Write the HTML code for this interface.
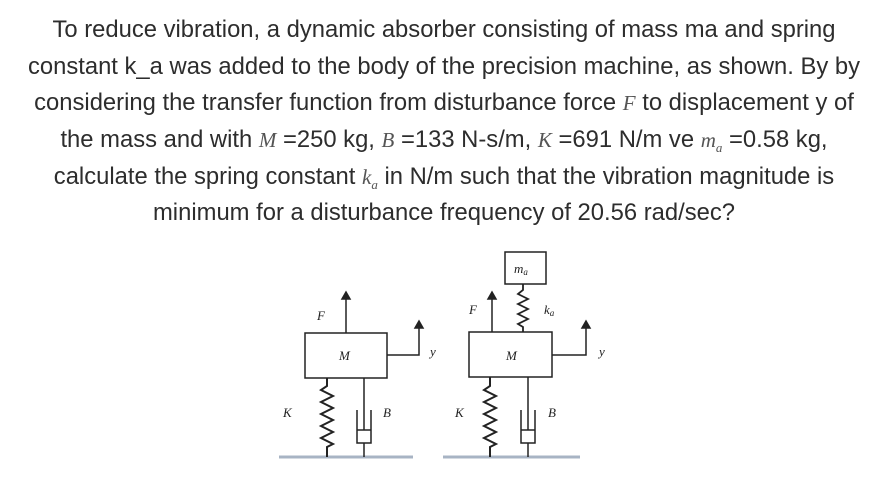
<!DOCTYPE html>
<html><head><meta charset="utf-8"><style>
body{margin:0;width:888px;height:490px;background:#fff;position:relative;overflow:hidden;font-family:"Liberation Sans",sans-serif;color:#2d2d2d}
.l{position:absolute;left:0;width:888px;text-align:center;font-size:23.8px;line-height:26px;white-space:nowrap;letter-spacing:0px}
i{font-family:"Liberation Serif",serif;color:#555;font-size:21px}
svg{position:absolute;left:0;top:0}
</style></head><body>
<div class="l" style="top:17px">To reduce vibration, a dynamic absorber consisting of mass ma and spring</div>
<div class="l" style="top:54px">constant k_a was added to the body of the precision machine, as shown. By by</div>
<div class="l" style="top:90px">considering the transfer function from disturbance force <i>F</i> to displacement y of</div>
<div class="l" style="top:127px">the mass and with <i>M</i> =250 kg, <i>B</i> =133 N-s/m, <i>K</i> =691 N/m ve <i>m<sub style="font-size:13px">a</sub></i> =0.58 kg,</div>
<div class="l" style="top:164px">calculate the spring constant <i>k<sub style="font-size:13px">a</sub></i> in N/m such that the vibration magnitude is</div>
<div class="l" style="top:200px">minimum for a disturbance frequency of 20.56 rad/sec?</div>
<svg width="888" height="490" font-family="Liberation Serif,serif" font-style="italic" font-size="13" fill="none" stroke="#222" stroke-width="1.5">
<g>
<line x1="279" y1="457" x2="413" y2="457" stroke="#a8b4c4" stroke-width="3"/>
<rect x="305" y="333" width="82" height="45"/>
<line x1="346" y1="333" x2="346" y2="298"/><path d="M342 299 L346 292 L350 299Z" fill="#222"/>
<polyline points="387,355 419,355 419,327"/><path d="M415 328 L419 321 L423 328Z" fill="#222"/>
<polyline points="327,378 327,386 321,390 333,396 321,402 333,408 321,414 333,420 321,426 333,432 321,438 333,444 327,447 327,457" stroke-width="2"/>
<line x1="364" y1="378" x2="364" y2="430"/>
<polyline points="357,410 357,443 371,443 371,410"/>
<line x1="357" y1="430" x2="371" y2="430"/>
<line x1="364" y1="443" x2="364" y2="457"/>
<g fill="#222" stroke="none"><text x="317" y="320">F</text><text x="339" y="360">M</text><text x="283" y="417">K</text><text x="383" y="417">B</text><text x="430" y="356">y</text></g>
</g>
<g>
<line x1="443" y1="457" x2="580" y2="457" stroke="#a8b4c4" stroke-width="3"/>
<rect x="469" y="332" width="83" height="45"/>
<rect x="505" y="252" width="41" height="32"/>
<line x1="492" y1="332" x2="492" y2="298"/><path d="M488 299 L492 292 L496 299Z" fill="#222"/>
<polyline points="552,355 586,355 586,327"/><path d="M582 328 L586 321 L590 328Z" fill="#222"/>
<polyline points="523,284 523,290 518,294 528,299 518,304 528,309 518,314 528,319 518,324 523,327 523,332" stroke-width="1.8"/>
<polyline points="490,377 490,386 484,390 496,396 484,402 496,408 484,414 496,420 484,426 496,432 484,438 496,444 490,447 490,457" stroke-width="2"/>
<line x1="528" y1="377" x2="528" y2="430"/>
<polyline points="521,410 521,443 535,443 535,410"/>
<line x1="521" y1="430" x2="535" y2="430"/>
<line x1="528" y1="443" x2="528" y2="457"/>
<g fill="#222" stroke="none"><text x="469" y="314">F</text><text x="506" y="360">M</text><text x="455" y="417">K</text><text x="548" y="417">B</text><text x="599" y="356">y</text>
<text x="514" y="273">m<tspan font-size="9" dy="2">a</tspan></text><text x="544" y="314">k<tspan font-size="9" dy="2">a</tspan></text></g>
</g>
</svg>
</body></html>
